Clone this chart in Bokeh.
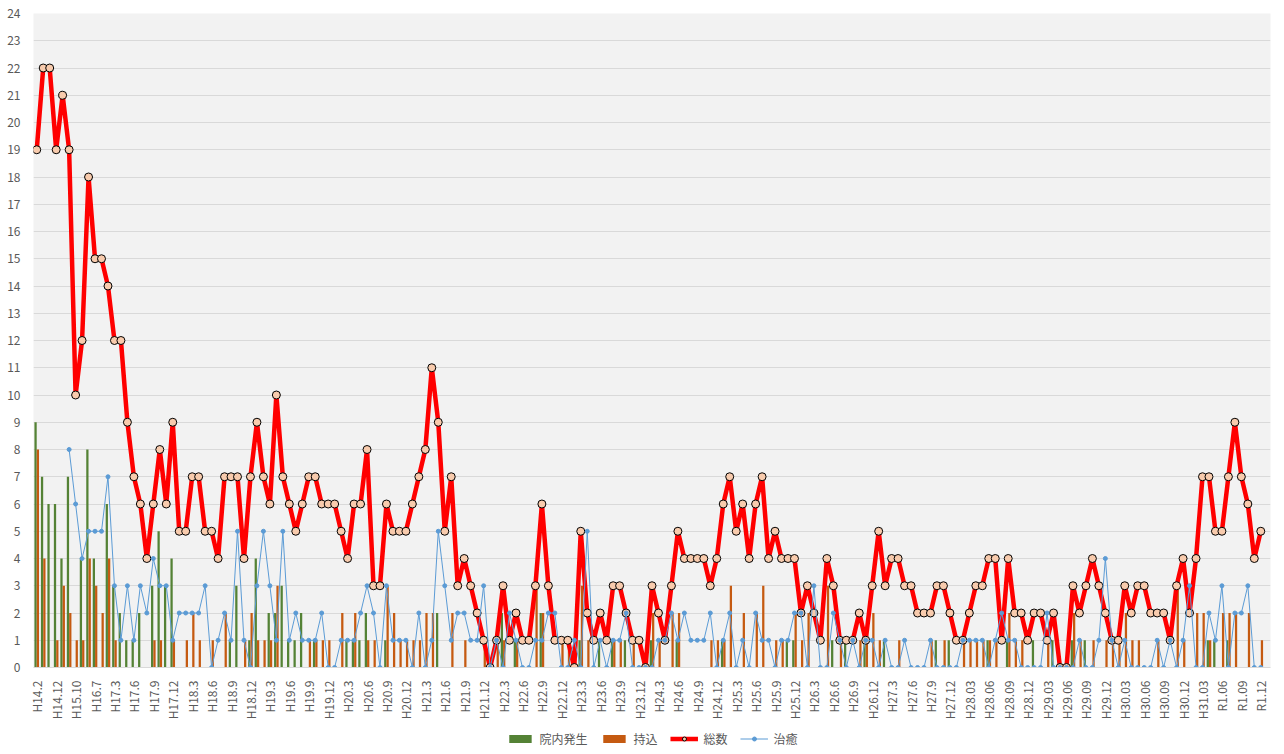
import math
from bokeh.plotting import figure
from bokeh.layouts import column
from bokeh.models import ColumnDataSource, FixedTicker, Legend, LegendItem, Range1d
from bokeh.transform import dodge
from bokeh.embed import file_html
from bokeh.resources import INLINE

nan = float("nan")

tick_labels = ["H14.2", "H14.12", "H15.10", "H16.7", "H17.3", "H17.6", "H17.9", "H17.12",
               "H18.3", "H18.6", "H18.9", "H18.12", "H19.3", "H19.6", "H19.9", "H19.12",
               "H20.3", "H20.6", "H20.9", "H20.12", "H21.3", "H21.6", "H21.9", "H21.12",
               "H22.3", "H22.6", "H22.9", "H22.12", "H23.3", "H23.6", "H23.9", "H23.12",
               "H24.3", "H24.6", "H24.9", "H24.12", "H25.3", "H25.6", "H25.9", "H25.12",
               "H26.3", "H26.6", "H26.9", "H26.12", "H27.3", "H27.6", "H27.9", "H27.12",
               "H28.03", "H28.06", "H28.09", "H28.12", "H29.03", "H29.06", "H29.09", "H29.12",
               "H30.03", "H30.06", "H30.09", "H30.12", "H31.03", "R1.06", "R1.09", "R1.12"]

# 総数
total = [19, 22, 22, 19, 21, 19, 10, 12, 18, 15,
         15, 14, 12, 12, 9, 7, 6, 4, 6, 8,
         6, 9, 5, 5, 7, 7, 5, 5, 4, 7,
         7, 7, 4, 7, 9, 7, 6, 10, 7, 6,
         5, 6, 7, 7, 6, 6, 6, 5, 4, 6,
         6, 8, 3, 3, 6, 5, 5, 5, 6, 7,
         8, 11, 9, 5, 7, 3, 4, 3, 2, 1,
         0, 1, 3, 1, 2, 1, 1, 3, 6, 3,
         1, 1, 1, 0, 5, 2, 1, 2, 1, 3,
         3, 2, 1, 1, 0, 3, 2, 1, 3, 5,
         4, 4, 4, 4, 3, 4, 6, 7, 5, 6,
         4, 6, 7, 4, 5, 4, 4, 4, 2, 3,
         2, 1, 4, 3, 1, 1, 1, 2, 1, 3,
         5, 3, 4, 4, 3, 3, 2, 2, 2, 3,
         3, 2, 1, 1, 2, 3, 3, 4, 4, 1,
         4, 2, 2, 1, 2, 2, 1, 2, 0, 0,
         3, 2, 3, 4, 3, 2, 1, 1, 3, 2,
         3, 3, 2, 2, 2, 1, 3, 4, 2, 4,
         7, 7, 5, 5, 7, 9, 7, 6, 4, 5]

# 治癒
cured = [nan, nan, nan, nan, nan, 8, 6, 4, 5, 5,
         5, 7, 3, 1, 3, 1, 3, 2, 4, 3,
         3, 1, 2, 2, 2, 2, 3, 0, 1, 2,
         1, 5, 1, 0, 3, 5, 3, 1, 5, 1,
         2, 1, 1, 1, 2, 0, 0, 1, 1, 1,
         2, 3, 2, 0, 3, 1, 1, 1, 0, 2,
         0, 1, 5, 3, 1, 2, 2, 1, 1, 3,
         0, 1, 0, 2, 1, 0, 0, 1, 1, 2,
         2, 0, 0, 1, 0, 5, 0, 1, 0, 1,
         1, 2, 0, 0, 0, 0, 1, 1, 2, 1,
         2, 1, 1, 1, 2, 0, 1, 2, 0, 1,
         0, 2, 1, 1, 0, 1, 1, 2, 2, 0,
         3, 0, 0, 2, 1, 0, 1, 0, 1, 1,
         0, 1, 0, 0, 1, 0, 0, 0, 1, 0,
         0, 0, 0, 1, 1, 1, 1, 0, 1, 2,
         1, 1, 0, 0, 0, 0, 2, 0, 0, 0,
         0, 1, 0, 0, 1, 4, 1, 0, 1, 0,
         0, 0, 0, 1, 0, 1, 0, 1, 3, 0,
         0, 2, 1, 3, 0, 2, 2, 3, 0, 0]

# 院内発生
inhouse = [9, 7, 6, 6, 4, 7, 0, 4, 8, 4,
           0, 6, 3, 2, 1, 1, 2, 0, 3, 5,
           3, 4, 0, 0, 0, 0, 0, 0, 0, 0,
           1, 3, 0, 1, 4, 0, 2, 2, 3, 1,
           1, 2, 0, 1, 0, 0, 0, 0, 1, 1,
           1, 2, 0, 0, 1, 0, 0, 0, 0, 0,
           0, 0, 2, 0, 0, 0, 0, 0, 0, 0,
           0, 0, 2, 0, 1, 0, 0, 0, 2, 0,
           0, 0, 0, 0, 1, 0, 0, 1, 0, 1,
           0, 1, 0, 0, 0, 1, 0, 0, 0, 1,
           0, 0, 0, 0, 0, 0, 1, 0, 0, 0,
           0, 0, 0, 0, 0, 0, 1, 1, 0, 0,
           0, 0, 0, 1, 0, 1, 0, 0, 1, 0,
           0, 1, 0, 0, 0, 0, 0, 0, 0, 1,
           0, 1, 0, 0, 0, 0, 0, 1, 0, 0,
           1, 0, 0, 0, 1, 0, 0, 1, 0, 0,
           1, 0, 1, 0, 0, 0, 0, 0, 0, 0,
           0, 0, 0, 0, 0, 0, 0, 0, 0, 0,
           0, 1, 1, 0, 1, 0, 0, 0, 0, 0]

# 持込
brought = [8, 4, 0, 1, 3, 2, 1, 1, 4, 3,
           2, 4, 1, 0, 0, 0, 0, 0, 1, 1,
           0, 1, 0, 1, 2, 1, 0, 1, 0, 2,
           0, 0, 1, 2, 1, 1, 1, 3, 0, 0,
           0, 0, 1, 1, 1, 1, 0, 2, 0, 2,
           0, 1, 1, 0, 3, 2, 1, 1, 1, 1,
           2, 2, 0, 0, 2, 0, 1, 0, 0, 1,
           0, 1, 1, 0, 1, 0, 0, 3, 2, 0,
           0, 1, 1, 0, 3, 1, 0, 0, 0, 1,
           1, 0, 1, 0, 0, 2, 1, 0, 2, 2,
           0, 0, 0, 0, 1, 1, 1, 3, 0, 2,
           0, 2, 3, 0, 1, 1, 0, 2, 1, 2,
           0, 0, 3, 0, 1, 0, 0, 1, 1, 2,
           1, 0, 0, 1, 0, 0, 0, 0, 1, 0,
           1, 0, 0, 1, 1, 1, 1, 1, 1, 0,
           2, 1, 1, 0, 0, 0, 1, 0, 0, 0,
           2, 1, 0, 1, 0, 1, 1, 1, 2, 1,
           1, 0, 0, 1, 0, 0, 3, 1, 0, 2,
           2, 1, 0, 2, 2, 2, 0, 2, 0, 1]

n = len(total)
idx = list(range(n))
src = ColumnDataSource(dict(idx=idx, total=total, cured=cured,
                            inhouse=inhouse, brought=brought))

FONT = "Noto Sans CJK JP"
GRAY_TXT = "#595959"
GREEN = "#548235"
ORANGE = "#C55A11"
RED = "#FF0000"
BLUE = "#5B9BD5"
MARK = "#F8CBAD"

# one empty slot after the last month, as in the source chart
p = figure(width=1280, height=722, output_backend="svg", toolbar_location=None,
           x_range=Range1d(-0.5, n + 0.5), y_range=Range1d(0, 24),
           min_border_left=33, min_border_right=10, min_border_top=13,
           min_border_bottom=50)
p.background_fill_color = "#F2F2F2"
p.border_fill_color = "#FFFFFF"
p.outline_line_color = None

p.vbar(x=dodge("idx", -0.18, range=p.x_range), top="inhouse", width=0.35,
       source=src, fill_color=GREEN, line_color=None)
p.vbar(x=dodge("idx", 0.18, range=p.x_range), top="brought", width=0.35,
       source=src, fill_color=ORANGE, line_color=None)
p.line("idx", "total", source=src, line_color=RED, line_width=4.5)
p.scatter("idx", "total", source=src, size=8, fill_color=MARK,
          line_color="#000000", line_width=1)
p.line("idx", "cured", source=src, line_color=BLUE, line_width=1)
p.scatter("idx", "cured", source=src, size=4, fill_color=BLUE, line_color=BLUE)

p.xaxis.ticker = FixedTicker(ticks=[k * 3 for k in range(len(tick_labels))])
p.xaxis.major_label_overrides = {k * 3: lab for k, lab in enumerate(tick_labels)}
p.xaxis.major_label_orientation = math.pi / 2
p.xaxis.major_label_text_font = FONT
p.xaxis.major_label_text_font_size = "12px"
p.xaxis.major_label_text_color = GRAY_TXT
p.xaxis.major_label_standoff = 7
p.xaxis.axis_line_color = "#D9D9D9"
p.xaxis.major_tick_line_color = None
p.xaxis.minor_tick_line_color = None

p.yaxis.ticker = FixedTicker(ticks=list(range(0, 25)))
p.yaxis.major_label_text_font = FONT
p.yaxis.major_label_text_font_size = "12px"
p.yaxis.major_label_text_color = GRAY_TXT
p.yaxis.major_label_standoff = 7
p.yaxis.axis_line_color = None
p.yaxis.major_tick_line_color = None
p.yaxis.minor_tick_line_color = None

p.xgrid.grid_line_color = None
p.ygrid.grid_line_color = "#D9D9D9"
p.ygrid.ticker = FixedTicker(ticks=list(range(0, 25)))

# legend strip below the chart (its renderers hold one point outside the view)
lg = figure(width=1280, height=32, output_backend="svg", toolbar_location=None,
            x_range=Range1d(0, 1), y_range=Range1d(0, 1),
            x_axis_location=None, y_axis_location=None,
            min_border_left=33, min_border_right=10, min_border_top=0,
            min_border_bottom=0)
lg.grid.visible = False
lg.outline_line_color = None
lg.background_fill_color = "#FFFFFF"
lg.border_fill_color = "#FFFFFF"

off = ColumnDataSource(dict(x=[-5.0], y=[-5.0]))
r_g = lg.vbar(x="x", top="y", width=0.1, source=off, fill_color=GREEN, line_color=None)
r_o = lg.vbar(x="x", top="y", width=0.1, source=off, fill_color=ORANGE, line_color=None)
r_tl = lg.line("x", "y", source=off, line_color=RED, line_width=4.5)
r_tp = lg.scatter("x", "y", source=off, size=8, fill_color=MARK,
                  line_color="#000000", line_width=1)
r_cl = lg.line("x", "y", source=off, line_color=BLUE, line_width=1)
r_cp = lg.scatter("x", "y", source=off, size=4, fill_color=BLUE, line_color=BLUE)

legend = Legend(items=[
    LegendItem(label="院内発生", renderers=[r_g]),
    LegendItem(label="持込", renderers=[r_o]),
    LegendItem(label="総数", renderers=[r_tl, r_tp]),
    LegendItem(label="治癒", renderers=[r_cl, r_cp]),
], orientation="horizontal", location="center",
    background_fill_alpha=0, border_line_color=None,
    label_text_font=FONT, label_text_font_size="12px", label_text_color=GRAY_TXT,
    glyph_width=28, glyph_height=10, label_height=14, spacing=12, padding=0,
    margin=0, label_standoff=6)
lg.add_layout(legend, "center")

open("out.html", "w").write(file_html(column(p, lg, spacing=0), INLINE))
